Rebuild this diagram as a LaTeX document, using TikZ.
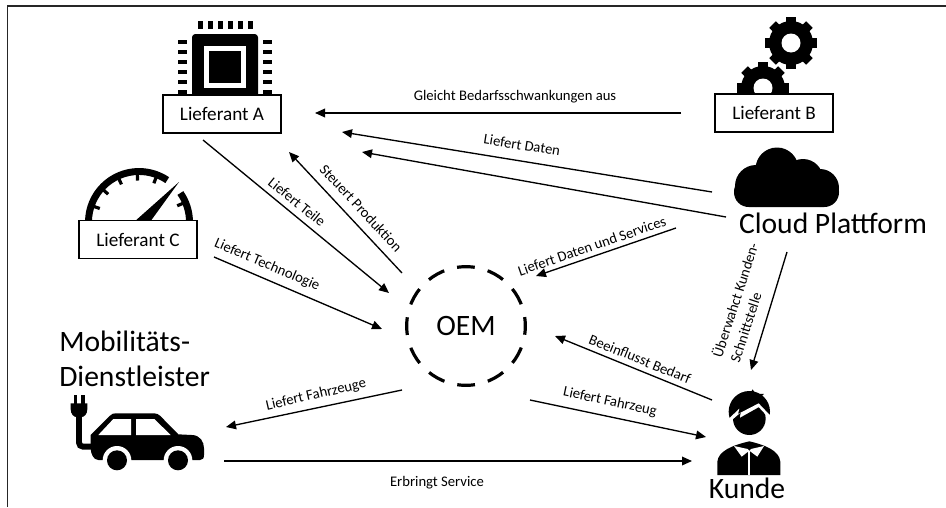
\documentclass[tikz,border=0pt]{standalone}
\usepackage{fontspec}
\setmainfont{Carlito}
\usetikzlibrary{arrows.meta}
\tikzset{
  box/.style={draw=black,fill=white,line width=1pt,minimum width=88.5pt,minimum height=28.5pt,inner sep=0pt,font=\fontsize{14.4}{16}\selectfont},
  big/.style={inner sep=0pt,font=\fontsize{22.2}{26.2}\selectfont},
  lab/.style={inner sep=0pt,font=\fontsize{11}{13.8}\selectfont},
  conn/.style={line width=1pt,-{Triangle[length=7.5pt,width=6.5pt]}},
  oem/.style={circle,draw=black,line width=2.4pt,minimum size=89pt,inner sep=0pt,dash pattern=on 13.3pt off 10pt,dash phase=6.6pt,font=\fontsize{22.2}{26}\selectfont},
}
\begin{document}
\begin{tikzpicture}[x=0.75pt,y=-0.75pt]
\useasboundingbox (0,0) rectangle (946,507);
% frame
\coordinate (fa) at (7.5,507);
\coordinate (fb) at (7.5,6);
\coordinate (fc) at (946,6);
\draw[line width=1.1pt,black!85] (fa) -- (fb) -- (fc);
% chip
\fill[black,rounded corners=2.5pt] (192,34) rectangle (258,110);
\fill[white] (204,46) rectangle (246,88);
\fill[black] (209,51) rectangle (241,83);
\foreach \i in {0,...,5}{
  \fill[black] ({198+\i*10},21) rectangle ({202.5+\i*10},29);
  \fill[black] (178,{40.2+\i*9.9}) rectangle (187,{44.4+\i*9.9});
  \fill[black] (263,{40.2+\i*9.9}) rectangle (272,{44.4+\i*9.9});
}
% gears
\foreach \cx/\cy in {791/43,763/88}{
  \fill[black] (\cx,\cy) circle (22);
  \foreach \a in {0,45,...,315}
    \draw[black,line width=7pt] (\cx,\cy) -- ++(\a+90:26);
  \fill[white] (\cx,\cy) circle (9.5);
}
% cloud
\fill[black,rounded corners=11pt] (734,177) rectangle (839,207);
\fill[black] (777,169) circle (21.5);
\fill[black] (803,179) circle (20);
\fill[black] (756,186) circle (21);
\fill[black] (820,188) circle (19);
% gauge
\def\gcx{139}\def\gcy{222}
\draw[black,line width=5.2pt] (\gcx-50.5,\gcy) arc[start angle=-180,end angle=-56,radius=50.5];
\draw[black,line width=5.2pt] (\gcx,\gcy) ++(-35:50.5) arc[start angle=-35,end angle=0,radius=50.5];
\foreach \a in {161,138,115,92,69,23}
  \draw[black,line width=2.4pt] (\gcx,\gcy) ++(-\a:50) -- ++(-\a:-8.5);
\fill[black] (134,222) -- (179,182) -- (150,222) -- cycle;
% car
\begin{scope}[shift={(60,385)},x=0.25pt,y=-0.25pt]
  \fill[black] (92,150) -- (150,92) .. controls (157,86) and (160,85) .. (167,85) -- (283,85)
     .. controls (290,85) and (295,88) .. (300,92) -- (355,148) -- (395,150)
     .. controls (420,150) and (432,170) .. (432,190) -- (432,210)
     .. controls (432,220) and (428,225) .. (420,225) -- (115,225)
     .. controls (100,225) and (92,205) .. (92,190) -- cycle;
  \fill[white] (115,150) -- (160,102) -- (213,102) -- (213,150) -- cycle;
  \fill[white] (228,102) -- (283,102) -- (332,150) -- (228,150) -- cycle;
  \fill[white] (171,226) circle (43);
  \fill[white] (354,226) circle (43);
  \fill[white] (120,232) rectangle (410,275);
  \fill[black] (171,226) circle (30);
  \fill[black] (354,226) circle (30);
  \draw[black,line width=4.4pt,rounded corners=3pt] (57,92) -- (57,185) -- (98,185);
  \fill[black] (32,55) -- (82,55) -- (82,72) .. controls (82,88) and (72,96) .. (65,96) -- (49,96) .. controls (42,96) and (32,88) .. (32,72) -- cycle;
  \fill[black] (41,30) rectangle (51,56);
  \fill[black] (64,30) rectangle (74,56);
\end{scope}
% person
\begin{scope}[shift={(700,380)},x=0.25pt,y=-0.25pt]
  \fill[black] (148,95) circle (62);
  \fill[black] (146,48) -- (158,28) -- (166,41) -- (192,42) -- (176,56) -- cycle;
  \fill[white] (78,124) -- (118,86) -- (114,102) -- (176,70) -- (214,110) -- (220,180) -- (78,180) -- cycle;
  \begin{scope}
    \clip (78,136) -- (122,98) -- (119,114) -- (176,82) -- (214,122) -- (220,180) -- (78,180) -- cycle;
    \fill[black] (148,116) circle (49);
  \end{scope}
  \fill[black] (52,285) -- (52,245) .. controls (55,212) and (100,195) .. (148,184)
     .. controls (196,195) and (238,212) .. (241,245) -- (241,285) -- cycle;
  \fill[white] (102,198) -- (143,207) -- (148,212) -- (125,230) -- cycle;
  \fill[white] (192,198) -- (153,207) -- (148,212) -- (172,230) -- cycle;
  \draw[white,line width=1.3pt] (148,212) -- (148,285);
\end{scope}
% nodes
\node[box] (liefA) at (222,114) {Lieferant A};
\node[box] (liefB) at (774,113) {Lieferant B};
\node[box] (liefC) at (138,239.5) {Lieferant C};
\node[big] (cloud) at (833,223) {Cloud Plattform};
\node[oem] (oem) at (466,326) {OEM};
\node[big,align=left,anchor=west] (mobil) at (59,359) {Mobilitäts-\\[0pt]Dienstleister};
\node[big] (kunde) at (747,488) {Kunde};
% connector ends
\coordinate (c1a) at (681,113);  \coordinate (c1b) at (315,113);
\coordinate (c2a) at (712,192);  \coordinate (c2b) at (342,132);
\coordinate (c3a) at (726,217);  \coordinate (c3b) at (362,152);
\coordinate (c4a) at (402,273);  \coordinate (c4b) at (289,152);
\coordinate (c5a) at (203,140);  \coordinate (c5b) at (389,293);
\coordinate (c6a) at (214,257);  \coordinate (c6b) at (382,329);
\coordinate (c7a) at (676,228);  \coordinate (c7b) at (536,276);
\coordinate (c8a) at (787,252);  \coordinate (c8b) at (751,370);
\coordinate (c9a) at (712,400);  \coordinate (c9b) at (555,336);
\coordinate (c10a) at (530,400); \coordinate (c10b) at (706,437);
\coordinate (c11a) at (402,390); \coordinate (c11b) at (226,427);
\coordinate (c12a) at (224,461); \coordinate (c12b) at (692,461);
\foreach \n in {1,...,12} \draw[conn] (c\n a) -- (c\n b);
% labels
\node[lab] (l1) at (515,97) {Gleicht Bedarfsschwankungen aus};
\node[lab,rotate=-9] (l2) at (522,145) {Liefert Daten};
\node[lab,rotate=-39] (l3) at (297,202) {Liefert Teile};
\node[lab,rotate=-47] (l4) at (361,208) {Steuert Produktion};
\node[lab,rotate=-23] (l5) at (267,265) {Liefert Technologie};
\node[lab,rotate=19] (l6) at (592,246) {Liefert Daten und Services};
\node[lab,rotate=72,align=left] (l7) at (743.5,302.5) {Überwahct Kunden-\\Schnittstelle};
\node[lab,rotate=-22] (l8) at (640,359) {Beeinflusst Bedarf};
\node[lab,rotate=-12] (l9) at (610,402) {Liefert Fahrzeug};
\node[lab,rotate=13] (l10) at (316,395) {Liefert Fahrzeuge};
\node[lab] (l11) at (437,483) {Erbringt Service};
\end{tikzpicture}
\end{document}
